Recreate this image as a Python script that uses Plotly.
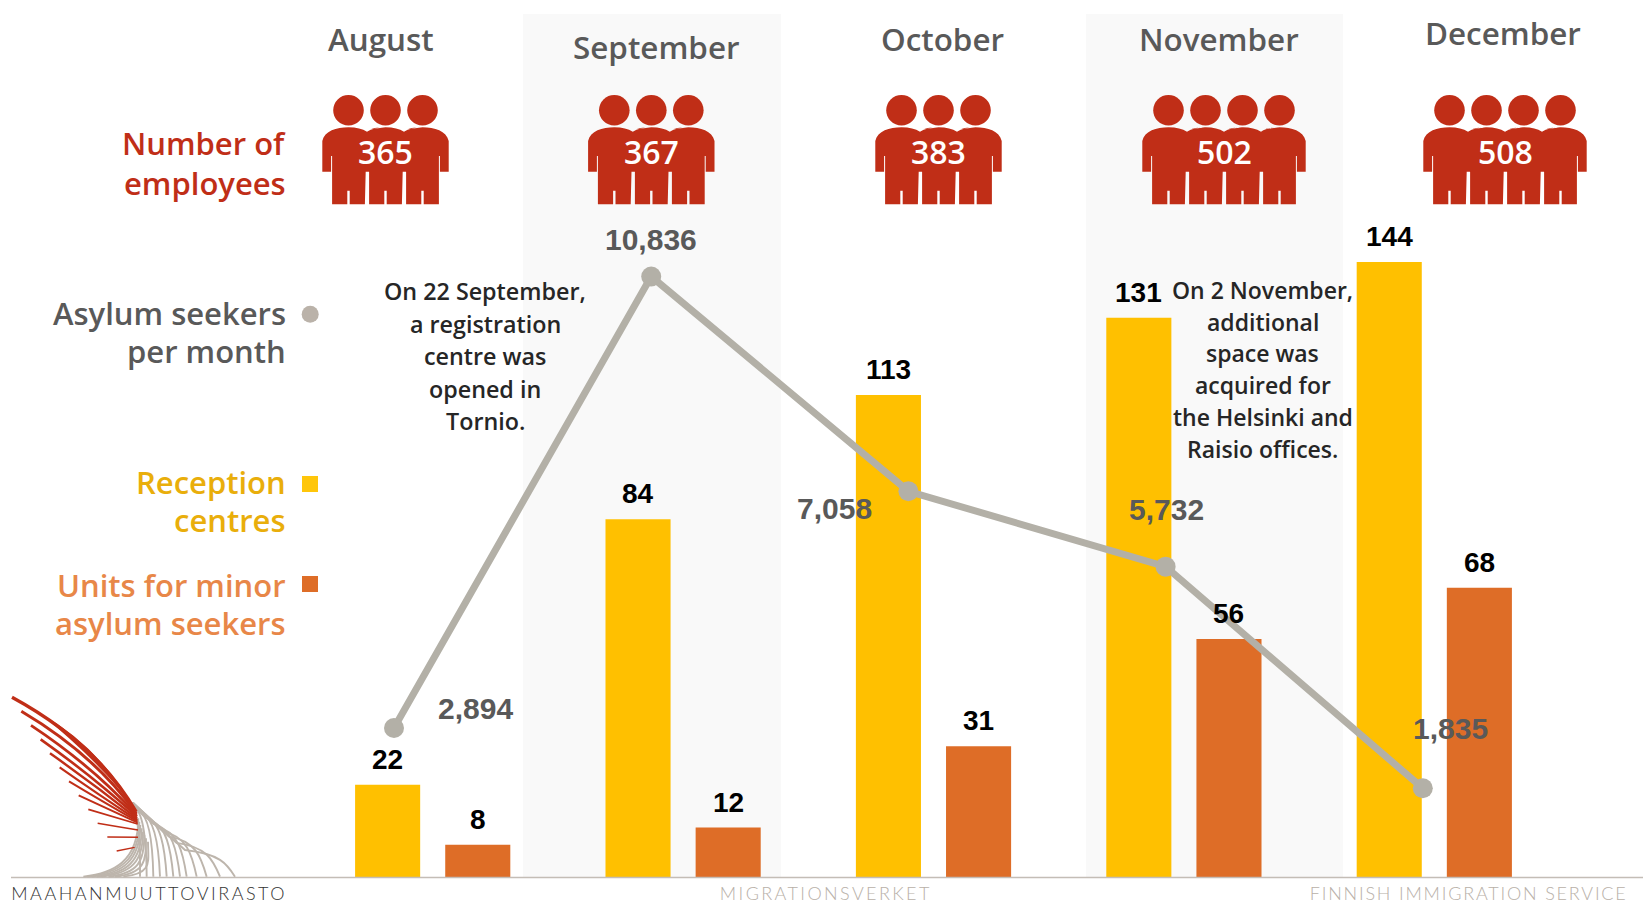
import plotly.graph_objects as go

months = ["August", "September", "October", "November", "December"]
employees = [365, 367, 383, 502, 508]
asylum_seekers = [2894, 10836, 7058, 5732, 1835]
reception_centres = [22, 84, 113, 131, 144]
minor_units = [8, 12, 31, 56, 68]

W, H = 1643, 904
RED = "#c02e17"; GREY = "#595959"; YEL = "#ffc000"; ORG = "#de6d27"; LINE = "#b3b0a7"
TXT = "Open Sans"; NUM = "Liberation Sans"; FOOT = "Lato"

def fx(x): return x / W
def fy(y): return 1 - y / H

shapes, ann = [], []

def text(s, x, y, size, color, anchor="center", weight=600, family=TXT):
    ann.append(dict(text=s, x=fx(x), y=fy(y), xref="paper", yref="paper", xanchor=anchor, yanchor="middle",
                    showarrow=False, font=dict(family=family, size=size, color=color, weight=weight)))

# Alternating month bands and baseline
for x0, x1 in [(523, 781), (1086, 1343)]:
    shapes.append(dict(type="rect", xref="paper", yref="paper", x0=fx(x0), x1=fx(x1), y0=fy(877), y1=fy(14),
                       fillcolor="#f9f9f9", line_width=0, layer="below"))
shapes.append(dict(type="line", xref="paper", yref="paper", x0=fx(11), x1=1, y0=fy(877.5), y1=fy(877.5),
                   line=dict(color="#c4bdb6", width=1.5), layer="above"))

# People pictogram
def people(cx, n):
    sp = 37.0
    xs = [cx + (i - (n - 1) / 2) * sp for i in range(n)]
    for c in xs:
        shapes.append(dict(type="circle", xref="paper", yref="paper", x0=fx(c - 15.3), x1=fx(c + 15.3),
                           y0=fy(110.3 + 15.3), y1=fy(110.3 - 15.3), fillcolor=RED, line_width=0))
    P = lambda x, y: f"{fx(x):.5f},{fy(y):.5f}"
    d = f"M{P(xs[0]-26.2,171.7)} L{P(xs[0]-26.2,141)} "
    for i, c in enumerate(xs):
        d += f"C{P(c-24,131)} {P(c-12,127.3)} {P(c,127.3)} "
        if i < n - 1:
            d += f"C{P(c+8,127.3)} {P(c+14,129)} {P(c+18.5,131.7)} C{P(c+23,129)} {P(c+29,127.3)} {P(c+36.99,127.3)} "
    c = xs[-1]
    d += f"C{P(c+12,127.3)} {P(c+24,131)} {P(c+26.2,141)} L{P(c+26.2,171.7)} L{P(c+17.4,171.7)} L{P(c+17.4,156)} L{P(c+16.4,156)} "
    for i in range(n - 1, -1, -1):
        c = xs[i]
        d += f"L{P(c+16.4,204.3)} L{P(c+1.2,204.3)} L{P(c+1.2,190.7)} L{P(c-1.2,190.7)} L{P(c-1.2,204.3)} L{P(c-16.4,204.3)} "
        if i > 0:
            d += f"L{P(c-16.4,171.7)} L{P(c-19.8,171.7)} "
    c = xs[0]
    d += f"L{P(c-16.4,156)} L{P(c-17.4,156)} L{P(c-17.4,171.7)} Z"
    shapes.append(dict(type="path", xref="paper", yref="paper", path=d, fillcolor=RED, line_width=0))

icon_cx = [385.5, 651.3, 938.5, 1224, 1505]
icon_n = [3, 3, 3, 4, 4]
month_xy = [(380.5, 38), (656, 46.5), (942, 38), (1218.6, 38), (1502.5, 33)]
for m, e, cx, n, (mx, my) in zip(months, employees, icon_cx, icon_n, month_xy):
    people(cx, n)
    text(str(e), cx, 151, 32, "white")
    text(m, mx, my, 31.4, GREY)

# Row labels and keys
for s, y, c in [("Number of", 143, RED), ("employees", 183, RED),
                ("Asylum seekers", 313, GREY), ("per month", 351, GREY),
                ("Reception", 482, "#e9ae0b"), ("centres", 520, "#e9ae0b"),
                ("Units for minor", 584.5, "#e88748"), ("asylum seekers", 622.5, "#e88748")]:
    text(s, 288, y, 31, c, anchor="right")
shapes.append(dict(type="circle", xref="paper", yref="paper", x0=fx(301.7), x1=fx(318.7), y0=fy(322.7), y1=fy(305.7),
                   fillcolor="#bab2a9", line_width=0))
for y0, c in [(476, "#ffc60a"), (576, ORG)]:
    shapes.append(dict(type="rect", xref="paper", yref="paper", x0=fx(302), x1=fx(318), y0=fy(y0 + 16), y1=fy(y0),
                       fillcolor=c, line_width=0))

# Notes
for i, s in enumerate(["On 22 September,", "a registration", "centre was", "opened in", "Tornio."]):
    text(s, 485, 291 + i * 32.5, 23.3, "#262626")
for i, s in enumerate(["On 2 November,", "additional", "space was", "acquired for", "the Helsinki and", "Raisio offices."]):
    text(s, 1262.6, 290 + i * 31.7, 23, "#262626")

# Footer
text("MAAHANMUUTTOVIRASTO", 149, 893, 18, "#333333", weight=300, family=FOOT)
text("MIGRATIONSVERKET", 826, 893, 18, "#b8b0a8", weight=300, family=FOOT)
text("FINNISH IMMIGRATION SERVICE", 1468, 893, 18, "#b8b0a8", weight=300, family=FOOT)

# Logo (crop coordinates: 3x, origin 0,680)
def Pz(x, y):
    return f"{fx(x/3):.5f},{fy(680+y/3):.5f}"
GL = "#bdb5ac"
landR = [420, 440, 460, 480, 500, 520, 540, 560, 590, 620, 660, 705]
for lx in landR:
    f = (lx - 440) / 265
    sx, sy = 405 + f * 150, 385 + f * 125
    path = f"M{Pz(398,368)} L{Pz(sx,sy)} C{Pz(sx+(lx-sx)*0.7,sy+12)} {Pz(lx-f*25,sy+(590-sy)*0.5)} {Pz(lx,590)}"
    shapes.append(dict(type="path", xref="paper", yref="paper", line=dict(color=GL, width=1.9), path=path))
for lx, cx, top in [(250, 415, 415), (262, 418, 425), (275, 421, 435), (290, 425, 445), (305, 429, 455),
                    (325, 433, 465), (345, 438, 475), (370, 444, 485)]:
    shapes.append(dict(type="path", xref="paper", yref="paper", line=dict(color=GL, width=1.9),
                       path=f"M{Pz(lx,590)} C{Pz(lx+90,580)} {Pz(cx,545)} {Pz(cx,top)}"))
tips = [(36,52),(64,94),(93,136),(122,178),(150,220),(179,262),(207,304),(236,346),(265,388),(293,430),(322,471),(350,513)]
ends = [(408,395),(409,400),(410,405),(411,410),(411,415),(412,420),(412,424),(413,428),(413,432),(414,450),(414,472),(404,502)]
ctrl = [(290,190),(285,225),(280,260),(280,290),(285,315),(290,340),(300,360),(320,385),(340,410),(350,440),(370,471),(380,507)]
wid = [3.4, 3, 2.8, 2.6, 2.4, 2.2, 2, 2, 1.8, 1.6, 1.5, 1.4]
shapes.append(dict(type="path", xref="paper", yref="paper", fillcolor=RED, line_width=0,
                   path=f"M{Pz(120,100)} Q{Pz(300,200)} {Pz(410,395)} Q{Pz(320,265)} {Pz(120,100)} Z"))
for (tx, ty), (ex, ey), (qx, qy), w in zip(tips, ends, ctrl, wid):
    shapes.append(dict(type="path", xref="paper", yref="paper", line=dict(color=RED, width=w),
                       path=f"M{Pz(tx,ty)} Q{Pz(qx,qy)} {Pz(ex,ey)}"))

fig = go.Figure()
fig.add_bar(x=months, y=reception_centres, marker_color=YEL, marker_line_width=0, name="Reception centres", xaxis="x", yaxis="y")
fig.add_bar(x=months, y=minor_units, marker_color=ORG, marker_line_width=0, name="Units for minor asylum seekers", xaxis="x", yaxis="y")
fig.add_scatter(x=months, y=asylum_seekers, mode="lines+markers", line=dict(color=LINE, width=7),
                marker=dict(color=LINE, size=20), name="Asylum seekers per month", xaxis="x2", yaxis="y2")

# Value labels
for i, (a, b) in enumerate(zip(reception_centres, minor_units)):
    for v, off in [(a, -0.18), (b, 0.18)]:
        ann.append(dict(text=str(v), x=i + off, y=v, xref="x", yref="y", yanchor="bottom", yshift=8, showarrow=False,
                        font=dict(family=NUM, size=28, color="black", weight=700)))
label_off = [(81, 20), (0, 37), (-74, -17), (1, 57), (28, 60)]
for i, (v, (dx, dy)) in enumerate(zip(asylum_seekers, label_off)):
    ann.append(dict(text=f"{v:,}", x=i, y=v, xref="x2", yref="y2", xshift=dx, yshift=dy, showarrow=False,
                    font=dict(family=NUM, size=30, color=GREY, weight=700)))

hide = dict(visible=False, showgrid=False, zeroline=False, fixedrange=True)
base_dom = (H - 877) / H
fig.update_layout(
    width=W, height=H, margin=dict(l=0, r=0, t=0, b=0), showlegend=False,
    plot_bgcolor="white", paper_bgcolor="rgba(0,0,0,0)",
    barmode="group", bargap=0.28, bargroupgap=0.278,
    xaxis=dict(hide, type="category", range=[-432.7 / 250.4, (W - 432.7) / 250.4], domain=[0, 1]),
    yaxis=dict(hide, range=[2 / 4.284, 2 / 4.284 + 877 / 4.284], domain=[base_dom, 1]),
    xaxis2=dict(hide, type="category", overlaying="x", range=[-394 / 257.2, (W - 394) / 257.2]),
    yaxis2=dict(hide, overlaying="y", range=[15.6 / 0.05686, 15.6 / 0.05686 + 877 / 0.05686]),
    shapes=shapes, annotations=ann,
)
spacing = "var s={'MAAHANMUUTTOVIRASTO':'2.5px','MIGRATIONSVERKET':'2.4px','FINNISH IMMIGRATION SERVICE':'1.8px'};" \
          "document.querySelectorAll('.annotation-text').forEach(function(t){if(s[t.textContent])t.style.letterSpacing=s[t.textContent];});"
fig.write_html("out.html", config={"displayModeBar": False},
               post_script="document.body.style.margin='0';" + spacing)
